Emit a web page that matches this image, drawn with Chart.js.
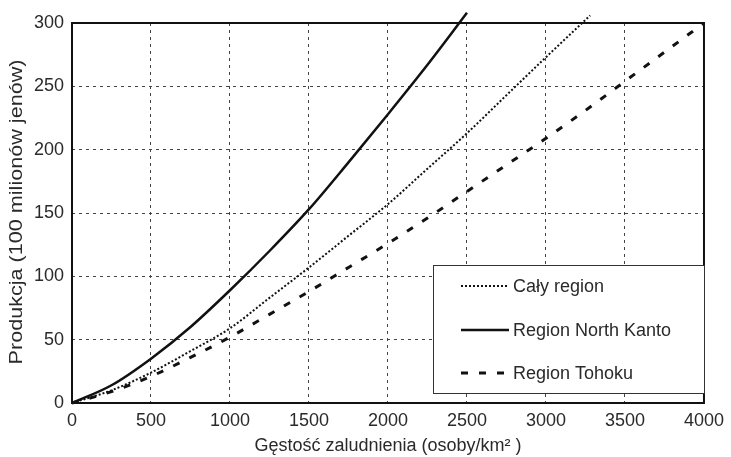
<!DOCTYPE html>
<html>
<head>
<meta charset="utf-8">
<script src="https://cdn.jsdelivr.net/npm/chart.js@4/dist/chart.umd.min.js"></script>
<style>
  html, body { margin: 0; padding: 0; background: #ffffff; }
  #wrap { width: 731px; height: 457px; position: relative; }
</style>
</head>
<body>
<div id="wrap"><canvas id="c" width="731" height="457"></canvas></div>
<script>
// ---- data ----
const seriesNames = ["Cały region", "Region North Kanto", "Region Tohoku"];

const densityAll = [0, 250, 500, 750, 1000, 1250, 1500, 1750, 2000, 2250, 2500, 2750, 3000, 3280];
const productionAll = [0, 10, 24, 41, 59, 83, 107, 132, 157, 185, 213, 243, 273, 306];

const densityNorthKanto = [0, 250, 500, 750, 1000, 1250, 1500, 1750, 2000, 2250, 2500];
const productionNorthKanto = [0, 14, 35, 60, 89, 120, 153, 190, 228, 267, 308];

const densityTohoku = [0, 250, 500, 750, 1000, 1250, 1500, 1750, 2000, 2250, 2500, 2750, 3000, 3250, 3500, 3750, 4000];
const productionTohoku = [0, 9, 21, 36, 52, 70, 88, 107, 126, 146, 167, 188, 209, 231, 254, 277, 300];

const xTicks = [0, 500, 1000, 1500, 2000, 2500, 3000, 3500, 4000];
const yTicks = [0, 50, 100, 150, 200, 250, 300];

const xTitle = "Gęstość zaludnienia (osoby/km² )";
const yTitle = "Produkcja (100 milionów jenów)";

function pts(xs, ys) { return xs.map((x, i) => ({ x: x, y: ys[i] })); }

const FONT = "'Liberation Sans', Arial, sans-serif";
const TXT = "#2a2a2a";

const styles = [
  { borderDash: [2, 2], borderWidth: 2 },
  { borderDash: [], borderWidth: 2.5 },
  { borderDash: [7, 11], borderWidth: 3 }
];

const frameAndLegend = {
  id: "frameAndLegend",
  afterDraw(chart) {
    const ctx = chart.ctx;
    const a = chart.chartArea;
    ctx.save();
    ctx.strokeStyle = "#111";
    ctx.lineWidth = 2;
    ctx.setLineDash([]);
    ctx.strokeRect(a.left, a.top, a.right - a.left, a.bottom - a.top);

    // axis titles
    ctx.fillStyle = TXT;
    ctx.font = "18px " + FONT;
    ctx.textAlign = "center";
    ctx.textBaseline = "middle";
    ctx.fillText(xTitle, (a.left + a.right) / 2, 446);
    ctx.save();
    ctx.translate(17, 212);
    ctx.rotate(-Math.PI / 2);
    ctx.scale(1.2, 1.05);
    ctx.fillText(yTitle, 0, 0);
    ctx.restore();

    // legend box
    const bx = 433, by = 265, bw = 271, bh = 128;
    ctx.fillStyle = "#ffffff";
    ctx.fillRect(bx, by, bw, bh);
    ctx.strokeStyle = "#333";
    ctx.lineWidth = 1;
    ctx.strokeRect(bx + 0.5, by + 0.5, bw, bh);

    const rows = [286, 330, 373];
    chart.data.datasets.forEach((ds, i) => {
      const y = rows[i];
      ctx.beginPath();
      ctx.setLineDash(ds.borderDash || []);
      ctx.lineWidth = ds.borderWidth;
      ctx.strokeStyle = "#111";
      ctx.moveTo(461, y);
      ctx.lineTo(509, y);
      ctx.stroke();
      ctx.setLineDash([]);
      ctx.fillStyle = TXT;
      ctx.font = "18px " + FONT;
      ctx.textBaseline = "middle";
      ctx.textAlign = "left";
      ctx.fillText(ds.label, 513, y + 1);
    });
    ctx.restore();
  }
};

new Chart(document.getElementById("c"), {
  type: "line",
  data: {
    datasets: [
      { label: seriesNames[0], data: pts(densityAll, productionAll), borderColor: "#111", ...styles[0] },
      { label: seriesNames[1], data: pts(densityNorthKanto, productionNorthKanto), borderColor: "#111", ...styles[1] },
      { label: seriesNames[2], data: pts(densityTohoku, productionTohoku), borderColor: "#111", ...styles[2] }
    ].map(d => Object.assign(d, {
      pointRadius: 0, fill: false, cubicInterpolationMode: "monotone", clip: false
    }))
  },
  options: {
    responsive: false,
    animation: false,
    layout: { padding: { left: 0, right: 25, top: 23, bottom: 0 } },
    plugins: { legend: { display: false }, tooltip: { enabled: false } },
    scales: {
      x: {
        type: "linear",
        min: 0, max: 4000,
        afterBuildTicks(s) { s.ticks = xTicks.map(v => ({ value: v })); },
        afterFit(s) { s.height = 54; },
        grid: { color: "#444", lineWidth: 1, drawTicks: false },
        border: { display: false, dash: [3, 4] },
        ticks: { color: TXT, font: { family: FONT, size: 18 }, padding: 7, maxRotation: 0,
                 callback: v => String(v) },
        title: { display: false }
      },
      y: {
        type: "linear",
        min: 0, max: 300,
        afterBuildTicks(s) { s.ticks = yTicks.map(v => ({ value: v })); },
        afterFit(s) { s.width = 72; },
        grid: { color: "#444", lineWidth: 1, drawTicks: false },
        border: { display: false, dash: [3, 4] },
        ticks: { color: TXT, font: { family: FONT, size: 18 }, padding: 8,
                 callback: v => String(v) },
        title: { display: false }
      }
    }
  },
  plugins: [frameAndLegend]
});
</script>
</body>
</html>
